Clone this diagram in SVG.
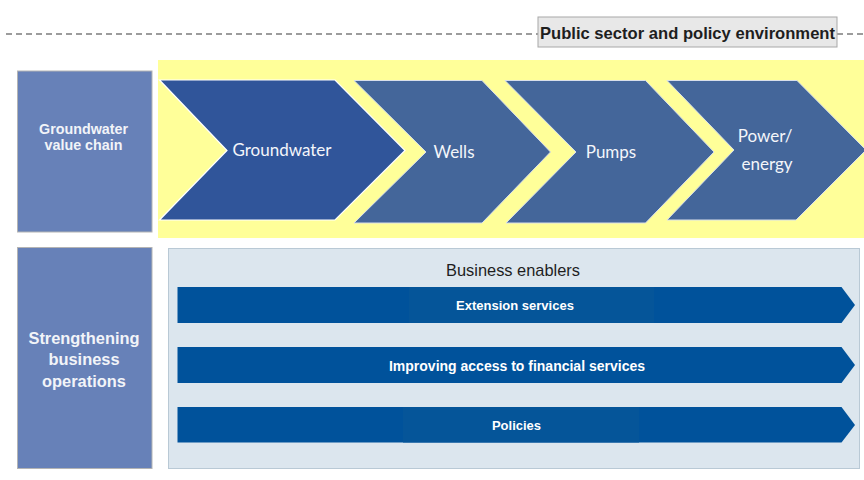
<svg xmlns="http://www.w3.org/2000/svg" width="864" height="480" viewBox="0 0 864 480">
  <style>
    .side { fill: #6781b8; stroke: #b4b4b4; stroke-width: 1; }
    .side-text { font-family: "Liberation Sans", Arial, sans-serif; font-weight: bold; fill: #f2f4f8; text-anchor: middle; }
    .chev-text { font-family: Lato, "Open Sans", sans-serif; font-size: 17px; fill: #f4f6fa; text-anchor: middle; }
    .bar { fill: #00529b; }
    .bar-shade { fill: #055599; }
    .bar-text { font-family: "Liberation Sans", Arial, sans-serif; font-weight: bold; fill: #ffffff; text-anchor: middle; }
  </style>

  <rect width="864" height="480" fill="#ffffff"/>

  <!-- boundary of the public sector zone -->
  <g id="boundary">
    <line x1="6" y1="34" x2="538" y2="34" stroke="#9c9c9c" stroke-width="2" stroke-dasharray="6 4"/>
    <line x1="837" y1="34" x2="864" y2="34" stroke="#9c9c9c" stroke-width="2" stroke-dasharray="6 4"/>
  </g>

  <g id="public-sector">
    <rect x="538" y="17" width="299" height="30" fill="#e8e8e8" stroke="#a8a8a8" stroke-width="1"/>
    <text x="687.5" y="38.5" font-family="Liberation Sans, Arial, sans-serif" font-weight="bold" font-size="16.6" fill="#1e1e1e" text-anchor="middle">Public sector and policy environment</text>
  </g>

  <!-- value chain row -->
  <g id="value-chain-band">
    <rect x="158" y="60" width="706" height="178" fill="#ffff99"/>
  </g>

  <g id="value-chain-label">
    <rect class="side" x="17.5" y="71" width="134.5" height="161"/>
    <text class="side-text" font-size="14.3" x="83.5" y="134">Groundwater</text>
    <text class="side-text" font-size="14.3" x="83.5" y="150">value chain</text>
  </g>

  <g id="step-groundwater">
    <polygon points="159.5,80 335,80 405,150.5 335,220 159.5,220 227,150.5" fill="#30559a" stroke="#ffffff" stroke-width="1.2"/>
    <text class="chev-text" x="282" y="156">Groundwater</text>
  </g>

  <g id="step-wells">
    <polygon points="354,80.5 482,80.5 550.5,152 482,223 354,223 426,152" fill="#44669a" stroke="#d8dfea" stroke-width="1"/>
    <text class="chev-text" x="454" y="158">Wells</text>
  </g>

  <g id="step-pumps">
    <polygon points="505,80.5 645.5,80.5 714,152 645.5,223 506,223 576,152" fill="#44669a" stroke="#d8dfea" stroke-width="1"/>
    <text class="chev-text" x="611" y="158">Pumps</text>
  </g>

  <g id="step-power">
    <polygon points="667,80.5 797,80.5 866,150 796,220 667,220 734,150" fill="#44669a" stroke="#d8dfea" stroke-width="1"/>
    <text class="chev-text" x="765" y="142">Power/</text>
    <text class="chev-text" x="767" y="170">energy</text>
  </g>

  <!-- business operations row -->
  <g id="operations-label">
    <rect class="side" x="17.5" y="247.5" width="134.5" height="221"/>
    <text class="side-text" font-size="16.4" x="84" y="344">Strengthening</text>
    <text class="side-text" font-size="16.4" x="84" y="365">business</text>
    <text class="side-text" font-size="16.4" x="84" y="387">operations</text>
  </g>

  <g id="business-enablers">
    <rect x="168.5" y="248.5" width="691" height="220" fill="#dce6ee" stroke="#b9c9d5" stroke-width="1"/>
    <text x="513" y="275.5" font-family="Liberation Sans, Arial, sans-serif" font-size="16.4" fill="#1e1e1e" text-anchor="middle">Business enablers</text>
  </g>

  <g id="enabler-extension">
    <polygon class="bar" points="177.5,287 841.5,287 855,305 841.5,323 177.5,323"/>
    <rect class="bar-shade" x="409" y="287" width="245" height="36"/>
    <text class="bar-text" font-size="13" x="515" y="310">Extension services</text>
  </g>

  <g id="enabler-finance">
    <polygon class="bar" points="177.5,347 841.5,347 855,365 841.5,383 177.5,383"/>
    <text class="bar-text" font-size="14" x="517" y="371">Improving access to financial services</text>
  </g>

  <g id="enabler-policies">
    <polygon class="bar" points="177.5,407 841.5,407 855,425 841.5,442.5 177.5,442.5"/>
    <rect class="bar-shade" x="403" y="407" width="236" height="35.5"/>
    <text class="bar-text" font-size="13" x="516.5" y="429.5">Policies</text>
  </g>

  <g id="connectors"/>
</svg>
